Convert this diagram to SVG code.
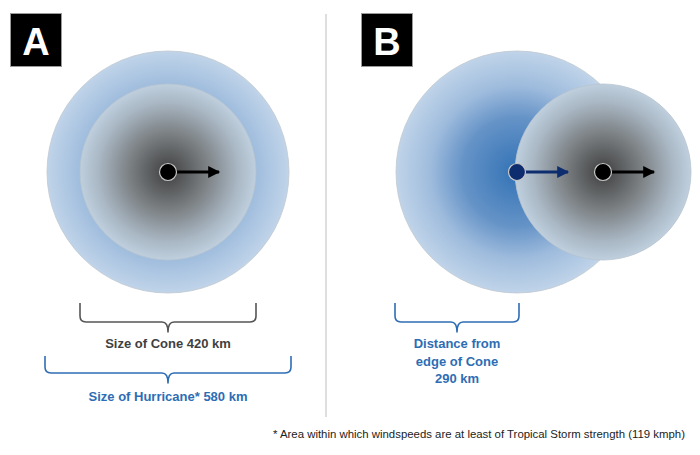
<svg xmlns="http://www.w3.org/2000/svg" width="700" height="455" viewBox="0 0 700 455">
<style>
.lbl{font-family:"Liberation Sans",Arial,sans-serif;font-weight:bold;text-anchor:middle;font-size:13px}
.box{fill:#000;stroke:#9a9a9a;stroke-width:1}
.boxt{font-family:"Liberation Sans",Arial,sans-serif;font-weight:bold;font-size:38px;fill:#fff;text-anchor:middle}
.dot{stroke:#c8c8c8;stroke-width:1.2}
.brk{fill:none;stroke-width:1.6;stroke-linejoin:round}
</style>
<defs>
<radialGradient id="gOuter" cx="50%" cy="50%" r="50%">
<stop offset="0" stop-color="#3272b5"/>
<stop offset="0.45" stop-color="#6593c7"/>
<stop offset="0.72" stop-color="#9fbcdd"/>
<stop offset="1" stop-color="#c0d4e9"/>
</radialGradient>
<radialGradient id="gInner" cx="50%" cy="50%" r="50%">
<stop offset="0" stop-color="#3f3f3f"/>
<stop offset="0.45" stop-color="#7d8285"/>
<stop offset="0.8" stop-color="#aab8c5"/>
<stop offset="1" stop-color="#bfcfdd"/>
</radialGradient>
<marker id="ahK" viewBox="0 0 10 10" refX="9" refY="5" markerWidth="4.5" markerHeight="4" orient="auto" markerUnits="strokeWidth">
<path d="M0,0 L10,5 L0,10 z" fill="#000"/>
</marker>
<marker id="ahB" viewBox="0 0 10 10" refX="9" refY="5" markerWidth="4.5" markerHeight="4" orient="auto" markerUnits="strokeWidth">
<path d="M0,0 L10,5 L0,10 z" fill="#0e2d6e"/>
</marker>
</defs>
<rect width="700" height="455" fill="#fff"/>
<line x1="326" y1="14" x2="326" y2="417" stroke="#c8c8c8" stroke-width="1.2"/>

<g id="labelA">
<rect class="box" x="10.5" y="13.5" width="51" height="53"/>
<text class="boxt" x="36" y="55">A</text>
</g>
<g id="labelB">
<rect class="box" x="361.5" y="13.5" width="51" height="53"/>
<text class="boxt" x="387" y="55">B</text>
</g>

<g id="hurricaneA">
<circle cx="168" cy="172" r="121" fill="url(#gOuter)" stroke="#c0c8d0" stroke-width="0.8"/>
</g>
<g id="coneA">
<circle cx="168" cy="172" r="88" fill="url(#gInner)" stroke="#b8c4cf" stroke-width="0.8"/>
</g>
<g id="hurricaneB">
<circle cx="517" cy="172" r="121" fill="url(#gOuter)" stroke="#c0c8d0" stroke-width="0.8"/>
</g>
<g id="coneB">
<circle cx="603" cy="172" r="88" fill="url(#gInner)" stroke="#b8c4cf" stroke-width="0.8"/>
</g>

<g id="connectors">
<line x1="168" y1="172" x2="219" y2="172" stroke="#000" stroke-width="3" marker-end="url(#ahK)"/>
<line x1="517" y1="172" x2="568" y2="172" stroke="#0e2d6e" stroke-width="3" marker-end="url(#ahB)"/>
<line x1="603" y1="172" x2="654" y2="172" stroke="#000" stroke-width="3" marker-end="url(#ahK)"/>
</g>
<g id="centerA"><circle class="dot" cx="168" cy="172" r="8.5" fill="#000"/></g>
<g id="centerB1"><circle class="dot" cx="517" cy="172" r="8.5" fill="#0e2d6e"/></g>
<g id="centerB2"><circle class="dot" cx="603" cy="172" r="8.5" fill="#000"/></g>

<g id="braceCone">
<path class="brk" stroke="#555" d="M80,303 V316 Q80,322 86,322 H162 Q168,322 168,332 Q168,322 174,322 H250 Q256,322 256,316 V303"/>
<text class="lbl" x="168" y="348" fill="#3f3f3f">Size of Cone 420 km</text>
</g>
<g id="braceHurricane">
<path class="brk" stroke="#2e6db4" d="M45,356 V367 Q45,373 51,373 H162 Q168,373 168,383 Q168,373 174,373 H285 Q291,373 291,367 V356"/>
<text class="lbl" x="168" y="401" fill="#2e6db4">Size of Hurricane* 580 km</text>
</g>
<g id="braceDistance">
<path class="brk" stroke="#2e6db4" d="M395,303 V316 Q395,322 401,322 H451 Q457,322 457,332 Q457,322 463,322 H513 Q519,322 519,316 V303"/>
<text class="lbl" fill="#2e6db4"><tspan x="457" y="348">Distance from</tspan><tspan x="457" y="366">edge of Cone</tspan><tspan x="457" y="383">290 km</tspan></text>
</g>
<text x="273" y="438" font-family="Liberation Sans,Arial,sans-serif" font-size="11.4" fill="#222">* Area within which windspeeds are at least of Tropical Storm strength (119 kmph)</text>
</svg>
